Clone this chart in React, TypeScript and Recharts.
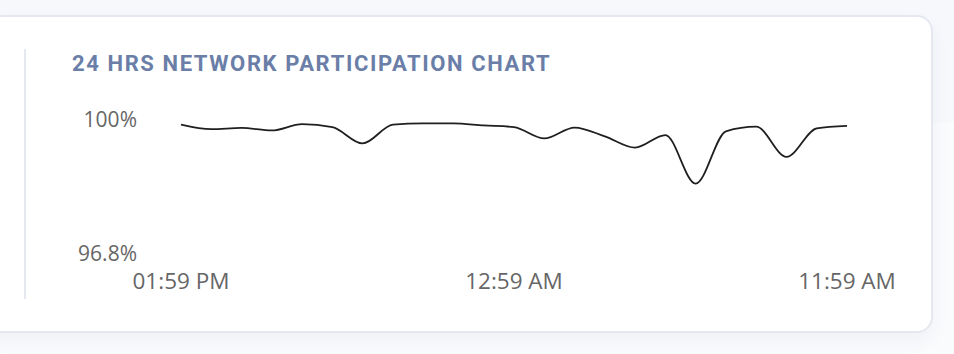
import {CartesianGrid, Line, LineChart, XAxis, YAxis} from 'recharts';

const hours = [
  '01:59 PM', '02:59 PM', '03:59 PM', '04:59 PM', '05:59 PM', '06:59 PM',
  '07:59 PM', '08:59 PM', '09:59 PM', '10:59 PM', '11:59 PM', '12:59 AM',
  '01:59 AM', '02:59 AM', '03:59 AM', '04:59 AM', '05:59 AM', '06:59 AM',
  '07:59 AM', '08:59 AM', '09:59 AM', '10:59 AM', '11:59 AM',
];

const participation = [
  99.89, 99.78, 99.81, 99.75, 99.9, 99.83, 99.44, 99.89, 99.92, 99.92, 99.87, 99.83,
  99.56, 99.82, 99.61, 99.34, 99.64, 98.48, 99.73, 99.84, 99.12, 99.8, 99.86,
];

const yTicks = [96.8, 100];

const chartData = hours.map((time, i) => ({time, value: participation[i]}));

const yTickStyle = {fill: '#666', fontSize: 21, fontFamily: '"Open Sans", sans-serif'};
const xTickStyle = {fill: '#666', fontSize: 22.5, fontFamily: '"Open Sans", sans-serif'};

export default function App() {
  return (
    <div style={{position: 'absolute', left: 0, top: 0, width: 954, height: 354, overflow: 'hidden', background: '#fafbfd'}}>
      <div style={{position: 'absolute', left: 0, top: 0, width: 954, height: 122, background: '#f6f8fc'}} />
      <div
        style={{
          position: 'absolute',
          left: -20,
          top: 15,
          width: 949,
          height: 314,
          border: '2px solid #e6e8f0',
          borderRadius: 16,
          background: '#fff',
          boxShadow: '0 8px 18px rgba(40, 50, 90, 0.05)',
        }}
      />
      <div style={{position: 'absolute', left: 24, top: 49, width: 2, height: 250, background: '#e6e8ef'}} />
      <div
        style={{
          position: 'absolute',
          left: 72,
          top: 53,
          fontFamily: 'Roboto, sans-serif',
          fontWeight: 700,
          fontSize: 22,
          lineHeight: 1,
          letterSpacing: 1.6,
          color: '#6a7ea8',
          whiteSpace: 'nowrap',
        }}
      >
        24 HRS NETWORK PARTICIPATION CHART
      </div>
      <div style={{position: 'absolute', left: 0, top: 100}}>
        <LineChart width={954} height={200} data={chartData} margin={{top: 20, right: 107, bottom: 6, left: 0}}>
          <CartesianGrid horizontal={false} vertical={false} />
          <XAxis
            dataKey="time"
            interval={10}
            axisLine={false}
            tickLine={false}
            tickSize={0}
            tickMargin={19}
            height={40}
            tick={xTickStyle}
          />
          <YAxis
            domain={[96.8, 100]}
            ticks={yTicks}
            tickFormatter={(v: number) => `${v}%`}
            axisLine={false}
            tickLine={false}
            tickSize={0}
            tickMargin={44}
            width={181}
            tick={yTickStyle}
          />
          <Line
            type="monotone"
            dataKey="value"
            stroke="#1f1f1f"
            strokeWidth={1.8}
            dot={false}
            isAnimationActive={false}
          />
        </LineChart>
      </div>
    </div>
  );
}
